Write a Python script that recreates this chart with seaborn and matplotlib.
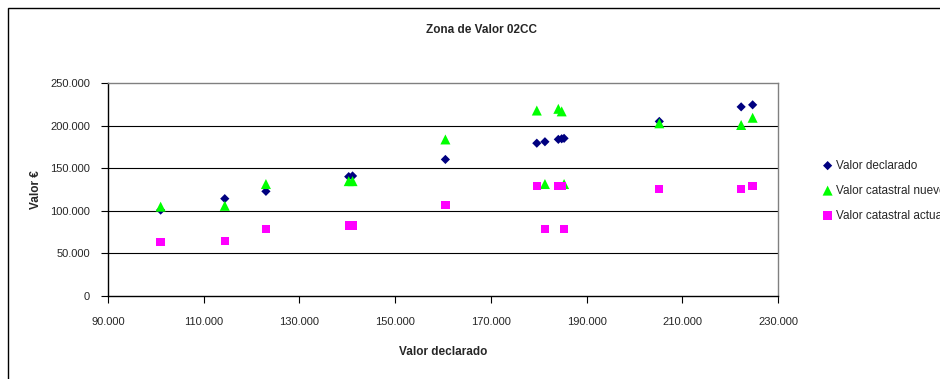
import matplotlib
matplotlib.use("Agg")
import matplotlib.pyplot as plt
from matplotlib.patches import Rectangle
from matplotlib.ticker import FuncFormatter, FixedLocator
import seaborn as sns
import pandas as pd

# Property values for zone 02CC (euros)
valor_declarado_x = [101000, 114400, 123000, 140300, 141100, 160500, 179600,
                     181300, 184100, 184800, 185300, 205200, 222300, 224700]
valor_declarado = [101000, 114400, 123000, 140300, 141100, 160500, 179600,
                   181300, 184100, 184800, 185300, 205200, 222300, 224700]
valor_catastral_nuevo = [105000, 106000, 131600, 135000, 135000, 184000, 218000,
                         131600, 220000, 217000, 131600, 203000, 201000, 209500]
valor_catastral_actual = [63500, 65000, 78400, 83000, 83000, 107000, 129600,
                          78400, 129600, 129600, 78400, 125400, 125400, 129600]

series_names = ["Valor declarado", "Valor catastral nuevo", "Valor catastral actual"]
x_ticks = [90000, 110000, 130000, 150000, 170000, 190000, 210000, 230000]
y_ticks = [0, 50000, 100000, 150000, 200000, 250000]

frames = []
for name, vals in zip(series_names,
                      [valor_declarado, valor_catastral_nuevo, valor_catastral_actual]):
    frames.append(pd.DataFrame({"x": valor_declarado_x, "y": vals, "serie": name}))
df = pd.concat(frames, ignore_index=True)

sns.set_theme(style="white")
plt.rcParams["font.family"] = ["Liberation Sans Narrow", "Liberation Sans", "DejaVu Sans"]

W, H = 940, 379
fig = plt.figure(figsize=(W / 100, H / 100), dpi=100)
fig.patch.set_facecolor("white")

# Chart frame (open to the right and bottom)
fig.add_artist(Rectangle((8 / W, -0.1), 1.2, (H - 8) / H + 0.1,
                         transform=fig.transFigure, fill=False,
                         edgecolor="black", linewidth=1.0, clip_on=False))

ax = fig.add_axes([108 / W, (H - 296) / H, (778 - 108) / W, (296 - 83.3) / H])

palette = {"Valor declarado": "#000080",
           "Valor catastral nuevo": "#00FF00",
           "Valor catastral actual": "#FF00FF"}
markers = {"Valor declarado": "D",
           "Valor catastral nuevo": "^",
           "Valor catastral actual": "s"}
sizes = {"Valor declarado": 22, "Valor catastral nuevo": 52, "Valor catastral actual": 36}

for name in series_names:
    sub = df[df["serie"] == name]
    sns.scatterplot(data=sub, x="x", y="y", ax=ax, color=palette[name],
                    marker=markers[name], s=sizes[name], edgecolor="none",
                    linewidth=0, label=name, zorder=3)

ax.set_xlim(90000, 230000)
ax.set_ylim(0, 250000)
ax.xaxis.set_major_locator(FixedLocator(x_ticks))
ax.yaxis.set_major_locator(FixedLocator(y_ticks))

fmt = FuncFormatter(lambda v, p: f"{int(round(v)):,}".replace(",", "."))
ax.xaxis.set_major_formatter(fmt)
ax.yaxis.set_major_formatter(fmt)

for yv in y_ticks[1:-1]:
    ax.axhline(yv, color="black", linewidth=0.8, zorder=1)

for side in ["top", "right"]:
    ax.spines[side].set_color("#808080")
    ax.spines[side].set_linewidth(1.0)
for side in ["left", "bottom"]:
    ax.spines[side].set_color("black")
    ax.spines[side].set_linewidth(1.0)

ax.tick_params(axis="both", which="major", length=5, width=0.8, color="black",
               direction="out", labelsize=8, pad=8)
ax.tick_params(axis="x", pad=10)
ax.tick_params(left=True, bottom=True)

ax.set_xlabel("Valor declarado", fontsize=8.5, fontweight="bold", labelpad=14)
ax.set_ylabel("Valor €", fontsize=8.5, fontweight="bold", labelpad=6)

fig.text(481 / W, 1 - 30 / H, "Zona de Valor 02CC", ha="center", va="center",
         fontsize=8.5, fontweight="bold")

handles, labels = ax.get_legend_handles_labels()
ax.legend(handles, labels, loc="upper left",
          bbox_to_anchor=(817 / W, 1 - 155 / H), bbox_transform=fig.transFigure,
          frameon=False, fontsize=8.5, handletextpad=0.2, labelspacing=1.1,
          handlelength=1.0, borderaxespad=0)

fig.savefig("out.png", dpi=100)
